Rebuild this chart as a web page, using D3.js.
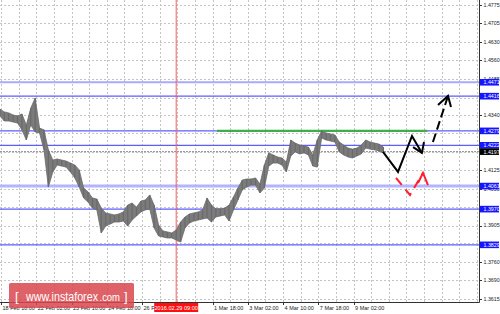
<!DOCTYPE html>
<html><head><meta charset="utf-8">
<script src="https://cdn.jsdelivr.net/npm/d3@7"></script>
<style>body{margin:0;background:#fff}svg{display:block}</style>
</head><body><svg id="c" width="500" height="314"></svg>
<script>
// ---- data ----
// bars every 4 trading hours, starting one hour before 18 Feb 18:00
const barStartHour = -1, barStepHours = 4;
const highs = [1.4365,1.4354,1.4350,1.4342,1.4338,1.4346,1.4302,1.4369,1.4409,1.4290,
1.4283,1.4204,1.4164,1.4168,1.4164,1.4160,1.4152,1.4144,1.4125,1.4053,
1.4038,1.4014,1.4010,1.3974,1.3955,1.3951,1.3947,1.3951,1.3959,1.3986,
1.3994,1.3978,1.4002,1.4006,1.4026,1.3986,1.3907,1.3884,1.3880,1.3876,
1.3888,1.3919,1.3939,1.3951,1.3955,1.3959,1.3967,1.4014,1.3986,1.3971,
1.3971,1.3974,1.3986,1.4018,1.4053,1.4085,1.4089,1.4089,1.4093,1.4069,
1.4144,1.4192,1.4184,1.4176,1.4172,1.4156,1.4243,1.4231,1.4223,1.4219,
1.4215,1.4184,1.4243,1.4279,1.4271,1.4267,1.4263,1.4235,1.4223,1.4211,
1.4207,1.4211,1.4223,1.4243,1.4235,1.4231,1.4227,1.4215];
const lows = [1.4338,1.4318,1.4318,1.4314,1.4310,1.4283,1.4243,1.4302,1.4275,1.4271,
1.4204,1.4057,1.4117,1.4144,1.4140,1.4136,1.4117,1.4093,1.4057,1.4014,
1.3998,1.3974,1.3967,1.3876,1.3903,1.3911,1.3919,1.3919,1.3923,1.3903,
1.3927,1.3943,1.3959,1.3967,1.3971,1.3895,1.3864,1.3860,1.3856,1.3856,
1.3848,1.3840,1.3895,1.3915,1.3923,1.3927,1.3931,1.3935,1.3919,1.3939,
1.3943,1.3947,1.3923,1.3967,1.4006,1.4046,1.4057,1.4065,1.4065,1.4034,
1.4053,1.4140,1.4152,1.4152,1.4144,1.4117,1.4180,1.4196,1.4188,1.4192,
1.4184,1.4140,1.4136,1.4251,1.4243,1.4239,1.4235,1.4196,1.4184,1.4176,
1.4172,1.4180,1.4188,1.4211,1.4207,1.4204,1.4200,1.4192];

const gridPrices = [1.4775,1.4705,1.4630,1.4560,1.4485,1.4410,1.4340,1.4270,1.4195,1.4125,1.4050,1.3980,1.3905,1.3835,1.3760,1.3690,1.3615];
const priceLabels = [1.4775,1.4705,1.4630,1.4560,1.4485,1.4340,1.4125,1.4050,1.3905,1.3760,1.3690,1.3615];

const gridHours = d3.range(0, 28).map(k => k * 16);
const timeLabelHours = [0,32,64,96,128,192,224,256,288,320];
const timeLabels = ["18 Feb 18:00","22 Feb 02:00","23 Feb 10:00","24 Feb 18:00","26 Feb 02:00","1 Mar 18:00","3 Mar 02:00","4 Mar 10:00","7 Mar 18:00","9 Mar 02:00"];

const levelValues = [1.4471, 1.4416, 1.4279, 1.4222, 1.4061, 1.3970, 1.3829];
const currentPrice = 1.4197;
const greenLevel = 1.4279, greenFrom = 196, greenTo = 387;
const markerHour = 159, markerLabel = "2016.02.29 09:00";

const projSolid = [[346.7,1.4196],[360.3,1.4117],[373,1.4259],[382,1.4192]];
const projSolidHead = [[374,1.4215],[382,1.4192],[383.9,1.4235]];
const projDashed = [[392,1.4235],[405.7,1.4417]];
const projDashedHead = [[396.6,1.4381],[405.7,1.4417],[408.4,1.4373]];
const projRed = [[358.5,1.4093],[371.2,1.4026],[383,1.4113]];
const projRedHead = [[378.5,1.4073],[383,1.4113],[387.5,1.4065]];

// ---- drawing ----
const svg = d3.select("#c");
const W = 479, H = 302;
const x = d3.scaleLinear().domain([0, 432]).range([1, 477]);
const y = d3.scaleLinear().domain([1.36032, 1.47959]).range([H, 0]);
const fontAx = "'Liberation Sans', Arial, sans-serif";

const plot = svg.append("g");
plot.append("defs").append("clipPath").attr("id","clip").append("rect").attr("width",W).attr("height",H);
const g = plot.append("g").attr("clip-path","url(#clip)");

// grid
g.selectAll(".hg").data(gridPrices).join("line")
  .attr("x1",0).attr("x2",W).attr("y1",d=>Math.round(y(d))+0.5).attr("y2",d=>Math.round(y(d))+0.5)
  .attr("stroke","#c4c4c4").attr("stroke-dasharray","2,2");
g.selectAll(".vg").data(gridHours).join("line")
  .attr("y1",0).attr("y2",H).attr("x1",d=>Math.round(x(d))+0.5).attr("x2",d=>Math.round(x(d))+0.5)
  .attr("stroke","#c4c4c4").attr("stroke-dasharray","2,2");

// level lines
const levelStroke = v => (v===1.4471 ? "#a9a9ff" : v===1.4061 ? "#b3b3ff" : "#5c5cff");
const levelWidth = v => (v===1.4471 ? 2 : v===1.4061 ? 3 : 1.2);
g.selectAll(".lv").data(levelValues).join("line")
  .attr("x1",0).attr("x2",W).attr("y1",d=>y(d)).attr("y2",d=>y(d))
  .attr("stroke",levelStroke).attr("stroke-width",levelWidth);
g.append("line").attr("x1",0).attr("x2",W).attr("y1",y(currentPrice)).attr("y2",y(currentPrice))
  .attr("stroke","#8a8a8a").attr("stroke-dasharray","2,1");
g.append("line").attr("x1",x(greenFrom)).attr("x2",x(greenTo)).attr("y1",y(greenLevel)).attr("y2",y(greenLevel))
  .attr("stroke","#3fae4a").attr("stroke-width",2.2);

// red marker line
g.append("line").attr("x1",x(markerHour)).attr("x2",x(markerHour)).attr("y1",0).attr("y2",H)
  .attr("stroke","#ff5a5a").attr("stroke-width",1);

// price bars
const bars = highs.map((h,i)=>({t: barStartHour + i*barStepHours, h, l: lows[i]}));
g.append("path").datum(bars)
  .attr("d", d3.area().x(d=>x(d.t)).y0(d=>y(d.l)).y1(d=>y(d.h)))
  .attr("fill","#7b7b7b").attr("stroke","#6a6a6a").attr("stroke-width",0.8);
g.selectAll(".bar").data(bars).join("line")
  .attr("x1",d=>x(d.t)).attr("x2",d=>x(d.t)).attr("y1",d=>y(d.h)).attr("y2",d=>y(d.l))
  .attr("stroke","#6a6a6a").attr("stroke-width",1.2);

// projections
const ln = d3.line().x(d=>x(d[0])).y(d=>y(d[1]));
g.append("path").attr("d",ln(projSolid)).attr("fill","none").attr("stroke","#000").attr("stroke-width",2);
g.append("path").attr("d",ln(projSolidHead)).attr("fill","none").attr("stroke","#000").attr("stroke-width",2);
g.append("path").attr("d",ln(projDashed)).attr("fill","none").attr("stroke","#000").attr("stroke-width",2).attr("stroke-dasharray","9,4");
g.append("path").attr("d",ln(projDashedHead)).attr("fill","none").attr("stroke","#000").attr("stroke-width",2);
g.append("path").attr("d",ln(projRed)).attr("fill","none").attr("stroke","#ff1e2d").attr("stroke-width",2).attr("stroke-dasharray","9,6");
g.append("path").attr("d",ln(projRedHead)).attr("fill","none").attr("stroke","#ff1e2d").attr("stroke-width",2);

// axes lines
svg.append("line").attr("x1",W+0.5).attr("x2",W+0.5).attr("y1",0).attr("y2",H+0.5).attr("stroke","#333");
svg.append("line").attr("x1",0).attr("x2",W+0.5).attr("y1",H+0.5).attr("y2",H+0.5).attr("stroke","#333");

// right axis labels
svg.selectAll(".pt").data(priceLabels).join("line")
  .attr("x1",W).attr("x2",W+3).attr("y1",d=>Math.round(y(d))+0.5).attr("y2",d=>Math.round(y(d))+0.5).attr("stroke","#333");
svg.selectAll(".pl").data(priceLabels).join("text")
  .attr("x",W+4.5).attr("y",d=>y(d)+1.9).text(d=>d.toFixed(4))
  .attr("font-family",fontAx).attr("font-size","5.3px").attr("fill","#222");
// level label boxes
const boxes = levelValues.map(v=>({v, c:"#1515ff"})).concat([{v:currentPrice, c:"#000"}]);
svg.selectAll(".lb").data(boxes).join("rect")
  .attr("x",W+1).attr("y",d=>y(d.v)-3.3).attr("width",19).attr("height",6.6).attr("fill",d=>d.c);
svg.selectAll(".lt").data(boxes).join("text")
  .attr("x",W+4.5).attr("y",d=>y(d.v)+1.9).text(d=>d.v.toFixed(4))
  .attr("font-family",fontAx).attr("font-size","5.3px").attr("fill","#fff");

// bottom axis
svg.selectAll(".tt").data(timeLabelHours).join("line")
  .attr("x1",d=>Math.round(x(d))+0.5).attr("x2",d=>Math.round(x(d))+0.5).attr("y1",H).attr("y2",H+3).attr("stroke","#333");
svg.selectAll(".tl").data(timeLabelHours).join("text")
  .attr("x",d=>x(d)+1.5).attr("y",H+7.5).text((d,i)=>timeLabels[i])
  .attr("font-family",fontAx).attr("font-size","5.5px").attr("fill","#222");

// marker label
const mx = x(markerHour);
svg.append("rect").attr("x",mx-22).attr("y",H+1).attr("width",44).attr("height",9).attr("fill","#ff1010");
svg.append("text").attr("x",mx).attr("y",H+7.5).attr("text-anchor","middle").text(markerLabel)
  .attr("font-family",fontAx).attr("font-size","5.6px").attr("fill","#fff");

// logo
const logo = svg.append("g");
logo.append("rect").attr("x",9).attr("y",283).attr("width",125).attr("height",25).attr("rx",1.5)
  .attr("fill","#d9464f").attr("fill-opacity",0.85);
const lt = logo.append("text").attr("y",301).attr("fill","#fff")
  .attr("font-family","'Liberation Sans', Arial, sans-serif");
lt.append("tspan").attr("x",15).attr("font-size","13px").text("[");
lt.append("tspan").attr("x",26).attr("font-size","12.5px")
  .attr("textLength",72).attr("lengthAdjust","spacingAndGlyphs").text("www.instaforex");
lt.append("tspan").attr("x",99.5).attr("font-size","10px")
  .attr("textLength",20.5).attr("lengthAdjust","spacingAndGlyphs").text(".com");
lt.append("tspan").attr("x",124).attr("font-size","13px").text("]");
</script></body></html>
